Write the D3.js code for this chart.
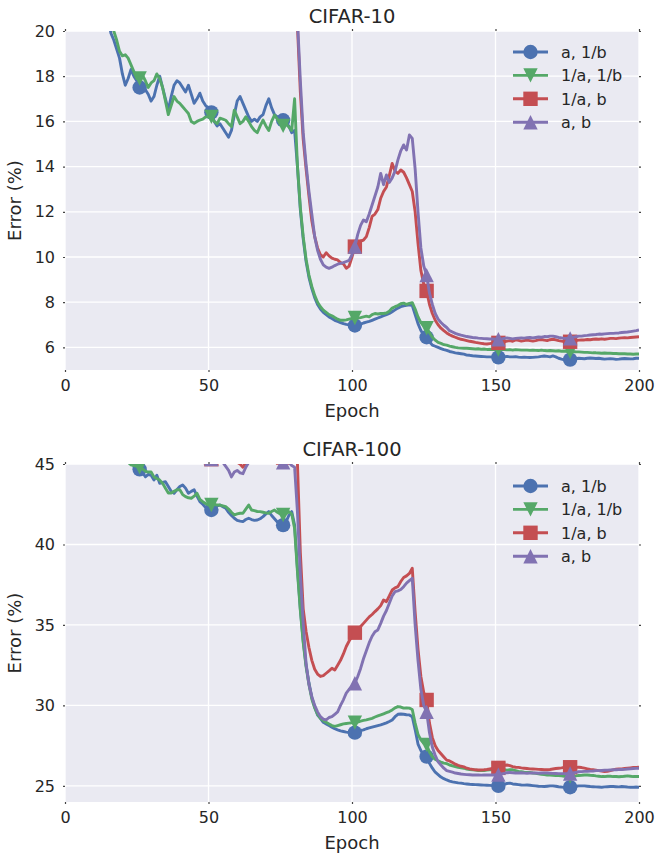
<!DOCTYPE html>
<html>
<head>
<meta charset="utf-8">
<script src="https://cdn.jsdelivr.net/npm/d3@7/dist/d3.min.js"></script>
<style>
  body { margin: 0; background: #fff; }
  svg text { font-family: "DejaVu Sans", sans-serif; fill: #262626; }
</style>
</head>
<body>
<div id="chart"></div>
<script>
const WIDTH = 656;
const HEIGHT = 857;

const labels = ["a, 1/b", "1/a, 1/b", "1/a, b", "a, b"];
const colors = ["#4C72B0", "#55A868", "#C44E52", "#8172B2"];
const markerKinds = ["circle", "triDown", "square", "triUp"];
const xTicks = [0, 50, 100, 150, 200];
const c10Ticks = [6, 8, 10, 12, 14, 16, 18, 20];
const c100Ticks = [25, 30, 35, 40, 45];
const MARK_EVERY = 25;

// CIFAR-10, error per epoch (epochs 1..200)
const c10_a_invb = [
  38, 33, 30, 28.5, 27, 26, 25.2, 24.5, 23.8, 23.2,
  22.7, 22.2, 21.7, 21.2, 20.6, 19.9, 19.6, 19.2, 18.8, 18.1,
  17.6, 17.9, 18.3, 18.0, 17.8, 17.5, 17.7, 17.4, 17.2, 16.9,
  17.1, 17.6, 18.0, 17.5, 17.0, 16.5, 17.1, 17.6, 17.8, 17.7,
  17.5, 17.3, 17.6, 17.2, 16.8, 17.0, 17.25, 16.9, 16.7, 16.6,
  16.4, 16.0, 15.8, 15.9, 15.7, 15.5, 15.3, 15.6, 16.3, 16.9,
  17.1, 16.8, 16.5, 16.2, 16.0, 16.1, 16.0, 16.2, 16.3, 16.7,
  17.0, 16.6, 16.3, 16.2, 16.1, 16.05, 15.9, 15.8, 15.5, 15.6,
  14.0, 12.1, 10.8, 9.8, 9.1, 8.6, 8.2, 7.9, 7.7, 7.55,
  7.45, 7.35, 7.28, 7.2, 7.15, 7.1, 7.05, 7.02, 7.0, 6.98,
  6.97, 7.0, 7.03, 7.08, 7.12, 7.15, 7.2, 7.25, 7.3, 7.35,
  7.4, 7.45, 7.5, 7.58, 7.66, 7.74, 7.8, 7.84, 7.86, 7.88,
  7.85, 7.45, 7.05, 6.75, 6.55, 6.45, 6.25, 6.1, 6.05, 6.0,
  5.95, 5.9, 5.87, 5.82, 5.79, 5.76, 5.74, 5.72, 5.7, 5.66,
  5.65, 5.63, 5.62, 5.61, 5.6, 5.59, 5.58, 5.58, 5.57, 5.57,
  5.56, 5.57, 5.58, 5.6, 5.58, 5.58, 5.59, 5.57, 5.56, 5.57,
  5.56, 5.55, 5.56, 5.57, 5.58, 5.6, 5.62, 5.6, 5.58, 5.62,
  5.58, 5.52, 5.48, 5.45, 5.45, 5.46, 5.48, 5.5, 5.52, 5.51,
  5.5, 5.52, 5.53, 5.52, 5.51, 5.52, 5.5, 5.48, 5.49, 5.5,
  5.49, 5.47, 5.48, 5.5, 5.51, 5.5, 5.49, 5.5, 5.52, 5.52
];
const c10_inva_invb = [
  39, 34, 31, 29, 27.5, 26.5, 25.6, 24.8, 24.1, 23.5,
  23.0, 22.4, 21.9, 21.4, 20.9, 20.4, 20.0, 19.6, 19.1, 18.9,
  18.95, 18.8, 18.5, 18.2, 17.9, 17.9, 18.05, 17.8, 17.5, 17.7,
  17.8, 18.1, 17.9, 17.5, 16.9, 16.3, 16.7, 17.1, 16.9, 16.8,
  16.65, 16.5, 16.35, 16.0, 15.92, 16.0, 16.06, 16.1, 16.2, 16.2,
  16.2, 16.0, 15.9, 16.14, 16.1, 16.05, 15.9, 15.77, 16.5, 16.2,
  15.9, 16.0, 16.2, 16.0, 15.77, 15.6, 15.5, 15.8, 16.06, 15.8,
  15.6, 16.0, 16.28, 16.1, 15.9, 15.8, 15.9, 15.75, 15.6, 17.0,
  14.0, 12.2, 10.9, 9.9, 9.2, 8.7, 8.3, 8.0, 7.8, 7.65,
  7.55, 7.45, 7.4, 7.32, 7.25, 7.2, 7.2, 7.22, 7.25, 7.28,
  7.3, 7.3, 7.32, 7.35, 7.38, 7.35, 7.45, 7.5, 7.48, 7.5,
  7.5, 7.52, 7.6, 7.74, 7.8, 7.85, 7.93, 7.96, 7.9, 7.95,
  7.98, 7.7, 7.35, 7.1, 6.95, 6.85, 6.65, 6.45, 6.32, 6.22,
  6.18, 6.12, 6.1, 6.06, 6.03, 6.0, 5.98, 5.97, 5.96, 5.96,
  5.95, 5.94, 5.93, 5.94, 5.92, 5.93, 5.91, 5.92, 5.91, 5.91,
  5.91, 5.9, 5.9, 5.89, 5.9, 5.88, 5.9, 5.89, 5.88, 5.88,
  5.88, 5.87, 5.88, 5.87, 5.86, 5.88, 5.86, 5.85, 5.86, 5.85,
  5.84, 5.85, 5.83, 5.84, 5.82, 5.81, 5.82, 5.8, 5.8, 5.79,
  5.78, 5.78, 5.77, 5.76, 5.76, 5.75, 5.74, 5.75, 5.74, 5.74,
  5.73, 5.73, 5.72, 5.72, 5.72, 5.71, 5.71, 5.7, 5.71, 5.71
];
const c10_inva_b = [
  47, 40, 36, 33.5, 31.5, 30, 29, 28.2, 27.6, 27.1,
  26.7, 26.3, 26, 25.7, 25.5, 25.3, 25.1, 24.9, 24.7, 24.6,
  24.5, 24.4, 24.3, 24.2, 24.1, 24.0, 23.9, 23.9, 23.8, 23.7,
  23.7, 23.6, 23.6, 23.5, 23.5, 23.4, 23.4, 23.3, 23.3, 23.2,
  23.2, 23.1, 23.1, 23.0, 23.0, 22.9, 22.9, 22.9, 22.8, 22.8,
  22.8, 22.7, 22.7, 22.7, 22.6, 22.6, 22.6, 22.5, 22.5, 22.5,
  22.4, 22.4, 22.4, 22.4, 22.3, 22.3, 22.3, 22.3, 22.2, 22.2,
  22.2, 22.2, 22.1, 22.1, 22.1, 22.1, 22.0, 22.0, 22.0, 22.0,
  20.2, 17.3, 15.2, 13.9, 12.7, 11.6, 10.9, 10.4, 10.1, 10.0,
  10.19, 10.05, 9.95, 9.9, 9.87, 9.75, 9.7, 9.5, 9.6, 10.0,
  10.46, 10.6, 10.7, 10.75, 10.9, 11.3, 11.8, 11.9, 12.1, 12.6,
  12.9, 13.1, 13.6, 14.14, 13.8, 13.7, 13.85, 13.75, 13.5, 13.2,
  12.9, 12.0, 10.6, 9.4, 8.8, 8.5, 7.9, 7.5, 7.2, 7.0,
  6.85, 6.74, 6.64, 6.56, 6.5, 6.45, 6.4, 6.36, 6.33, 6.3,
  6.27, 6.25, 6.22, 6.2, 6.18, 6.16, 6.15, 6.17, 6.19, 6.2,
  6.2, 6.22, 6.25, 6.28, 6.3, 6.27, 6.33, 6.31, 6.28, 6.3,
  6.32, 6.3, 6.28, 6.3, 6.33, 6.35, 6.32, 6.3, 6.34, 6.36,
  6.33, 6.3, 6.28, 6.26, 6.25, 6.25, 6.28, 6.3, 6.32, 6.33,
  6.33, 6.35, 6.34, 6.36, 6.37, 6.36, 6.38, 6.36, 6.38, 6.4,
  6.4, 6.39, 6.41, 6.42, 6.43, 6.42, 6.44, 6.45, 6.46, 6.47
];
const c10_a_b = [
  46, 39, 35, 32.8, 31, 29.7, 28.7, 28, 27.4, 26.9,
  26.5, 26.2, 25.9, 25.6, 25.4, 25.2, 25.0, 24.8, 24.7, 24.5,
  24.4, 24.3, 24.2, 24.1, 24.0, 23.9, 23.9, 23.8, 23.7, 23.7,
  23.6, 23.6, 23.5, 23.5, 23.4, 23.4, 23.3, 23.3, 23.2, 23.2,
  23.1, 23.1, 23.0, 23.0, 22.9, 22.9, 22.9, 22.8, 22.8, 22.8,
  22.7, 22.7, 22.7, 22.6, 22.6, 22.6, 22.5, 22.5, 22.5, 22.4,
  22.4, 22.4, 22.4, 22.3, 22.3, 22.3, 22.3, 22.2, 22.2, 22.2,
  22.2, 22.1, 22.1, 22.1, 22.1, 22.0, 22.0, 22.0, 22.0, 21.9,
  20.5, 17.8, 15.5, 14.1, 12.9, 11.9, 10.9, 10.3, 9.9, 9.65,
  9.55, 9.5, 9.55, 9.62, 9.68, 9.72, 9.75, 9.8, 9.85, 10.1,
  10.46, 11.0, 11.4, 11.64, 11.56, 11.9, 12.3, 12.7, 13.1, 13.7,
  13.2, 13.63, 13.3, 13.5, 13.8, 14.3, 14.7, 14.96, 14.73, 15.4,
  15.25, 13.9, 12.0, 10.4, 9.6, 9.2, 8.4, 7.9, 7.5, 7.25,
  7.1, 6.98, 6.88, 6.74, 6.68, 6.62, 6.58, 6.54, 6.51, 6.48,
  6.46, 6.44, 6.43, 6.41, 6.4, 6.39, 6.38, 6.37, 6.37, 6.36,
  6.36, 6.37, 6.4, 6.42, 6.4, 6.38, 6.4, 6.41, 6.42, 6.41,
  6.43, 6.44, 6.42, 6.44, 6.46, 6.45, 6.48, 6.47, 6.5, 6.5,
  6.47, 6.44, 6.42, 6.4, 6.4, 6.4, 6.44, 6.47, 6.5, 6.5,
  6.52, 6.53, 6.55, 6.56, 6.57, 6.59, 6.58, 6.6, 6.61, 6.62,
  6.62, 6.63, 6.64, 6.66, 6.67, 6.68, 6.7, 6.72, 6.74, 6.77
];

// CIFAR-100, error per epoch (epochs 1..200)
const c100_a_invb = [
  75, 68, 63, 60, 57.5, 55.5, 54, 53, 52, 51.2,
  50.5, 49.8, 49.2, 48.6, 48.1, 47.6, 47.2, 46.8, 46.4, 46.0,
  45.7, 45.4, 45.1, 44.9, 44.8, 44.67, 44.5, 44.2, 44.35, 44.3,
  44.0, 44.3, 43.8, 43.85, 43.9, 43.6, 43.3, 43.18, 43.4, 43.6,
  43.7, 43.5, 43.18, 43.3, 43.4, 43.0, 42.66, 42.5, 42.3, 42.2,
  42.14, 42.3, 42.4, 42.45, 42.35, 42.25, 42.0, 41.8, 41.63, 41.5,
  41.45, 41.42, 41.55, 41.63, 41.55, 41.5, 41.52, 41.6, 41.73, 41.9,
  42.04, 41.8, 41.6, 41.4, 41.25, 41.2, 41.4, 41.8, 42.04, 41.2,
  38.5, 36.0, 34.0, 32.5, 31.4, 30.5, 29.9, 29.4, 29.2, 28.95,
  28.85, 28.75, 28.65, 28.55, 28.48, 28.42, 28.38, 28.34, 28.32, 28.3,
  28.31, 28.38, 28.44, 28.48, 28.55, 28.6, 28.65, 28.7, 28.75, 28.79,
  28.85, 28.92, 29.0, 29.1, 29.3, 29.45, 29.47, 29.45, 29.42, 29.41,
  29.3, 28.5, 27.6, 27.2, 26.9, 26.82, 26.4, 26.1, 25.85, 25.7,
  25.55, 25.45, 25.37, 25.3, 25.25, 25.22, 25.19, 25.17, 25.14, 25.12,
  25.1, 25.09, 25.08, 25.07, 25.06, 25.05, 25.04, 25.03, 25.02, 25.0,
  25.0, 25.05, 25.1, 25.15, 25.17, 25.12, 25.1, 25.08, 25.06, 25.05,
  25.06, 25.04, 25.02, 25.0, 24.98, 24.97, 24.96, 24.98, 25.0, 25.0,
  24.98, 24.95, 24.93, 24.92, 24.92, 24.92, 24.95, 24.98, 25.0, 25.0,
  25.0, 24.98, 24.96, 24.95, 24.94, 24.93, 24.92, 24.94, 24.95, 24.96,
  24.96, 24.95, 24.94, 24.96, 24.95, 24.93, 24.92, 24.92, 24.93, 24.92
];
const c100_inva_invb = [
  74, 67, 62, 59, 56.8, 55, 53.6, 52.5, 51.6, 50.8,
  50.1, 49.4, 48.8, 48.2, 47.7, 47.2, 46.8, 46.4, 46.0, 45.6,
  45.3, 45.1, 44.95, 44.9, 44.85, 44.8, 44.7, 44.55, 44.5, 44.5,
  44.2, 44.1, 44.0, 43.8, 43.5, 43.2, 43.2, 43.3, 43.4, 43.4,
  43.1, 42.97, 42.9, 42.87, 43.0, 43.18, 42.8, 42.66, 42.55, 42.45,
  42.45, 42.5, 42.45, 42.45, 42.4, 42.35, 42.2, 42.0, 41.83, 41.9,
  41.94, 41.94, 42.2, 42.45, 42.14, 42.1, 42.05, 42.04, 42.0, 41.96,
  41.94, 42.05, 42.14, 42.0, 41.9, 41.83, 41.9, 42.04, 41.9, 41.0,
  38.3, 35.9, 33.9, 32.4, 31.3, 30.4, 29.85, 29.45, 29.2, 29.05,
  28.95, 28.85, 28.75, 28.7, 28.75, 28.8, 28.85, 28.88, 28.9, 28.92,
  28.93, 28.97, 29.02, 29.07, 29.1, 29.15, 29.2, 29.28, 29.35, 29.41,
  29.48, 29.55, 29.62, 29.72, 29.85, 29.93, 29.9, 29.83, 29.85, 29.83,
  29.75, 28.9, 28.2, 27.86, 27.65, 27.55, 27.1, 26.82, 26.65, 26.55,
  26.48, 26.42, 26.38, 26.3, 26.25, 26.2, 26.15, 26.12, 26.1, 26.05,
  26.02, 26.0, 25.98, 25.96, 25.95, 25.96, 25.98, 26.0, 26.0, 26.0,
  26.0, 26.02, 26.0, 25.98, 26.0, 26.0, 25.95, 25.9, 25.88, 25.85,
  25.84, 25.83, 25.8, 25.78, 25.75, 25.72, 25.7, 25.68, 25.68, 25.66,
  25.65, 25.64, 25.62, 25.6, 25.6, 25.58, 25.6, 25.62, 25.65, 25.66,
  25.68, 25.68, 25.66, 25.65, 25.62, 25.6, 25.58, 25.58, 25.6, 25.6,
  25.58, 25.58, 25.57, 25.58, 25.6, 25.62, 25.6, 25.58, 25.58, 25.58
];
const c100_inva_b = [
  80, 72, 66, 62, 59, 57, 55.5, 54.2, 53.2, 52.3,
  51.5, 50.8, 50.2, 49.7, 49.2, 48.8, 48.4, 48.1, 47.8, 47.5,
  47.3, 47.1, 46.9, 46.8, 46.7, 46.6, 46.5, 46.4, 46.3, 46.3,
  46.2, 46.1, 46.2, 46.0, 46.1, 45.9, 46.0, 45.8, 45.9, 45.7,
  45.8, 45.6, 45.7, 45.5, 45.6, 45.4, 45.5, 45.6, 45.3, 45.4,
  45.3, 45.5, 45.3, 45.2, 45.4, 45.3, 45.2, 45.4, 45.2, 45.1,
  45.0, 44.8, 45.1, 45.3, 45.2, 45.4, 45.3, 45.5, 45.3, 45.4,
  45.3, 45.5, 45.4, 45.6, 45.5, 45.4, 45.6, 45.5, 45.4, 45.5,
  45.0, 39.5, 36.0, 34.6, 33.6, 32.8, 32.25, 31.95, 31.8, 31.85,
  32.0, 32.15, 32.31, 32.2, 32.5, 32.8, 33.2, 33.66, 34.0, 34.3,
  34.52, 34.75, 34.9, 35.1, 35.3, 35.5, 35.65, 35.83, 36.0, 36.2,
  36.55, 36.45, 36.8, 37.17, 37.3, 37.38, 37.7, 37.95, 38.05, 38.2,
  38.52, 35.8, 33.5, 31.8, 30.8, 30.34, 28.9, 28.0, 27.5, 27.2,
  27.0, 26.8, 26.6, 26.55, 26.45, 26.35, 26.28, 26.22, 26.18, 26.1,
  26.06, 26.03, 26.0, 25.99, 25.99, 26.0, 26.02, 26.05, 26.08, 26.1,
  26.12, 26.2, 26.28, 26.3, 26.26, 26.2, 26.16, 26.15, 26.12, 26.1,
  26.08, 26.06, 26.05, 26.04, 26.03, 26.02, 26.0, 26.0, 26.02, 26.05,
  26.08, 26.1, 26.12, 26.15, 26.16, 26.16, 26.16, 26.15, 26.16, 26.14,
  26.1, 26.06, 26.02, 26.0, 25.98, 25.95, 25.92, 25.89, 25.9, 25.95,
  26.0, 26.04, 26.06, 26.05, 26.08, 26.1, 26.12, 26.14, 26.15, 26.16
];
const c100_a_b = [
  79, 71, 65, 61, 58.3, 56.2, 54.6, 53.3, 52.3, 51.4,
  50.6, 49.9, 49.3, 48.8, 48.3, 47.9, 47.5, 47.2, 46.9, 46.7,
  46.5, 46.3, 46.2, 46.0, 45.9, 45.8, 45.7, 45.6, 45.5, 45.45,
  45.4, 45.5, 45.3, 45.4, 45.2, 45.3, 45.1, 45.3, 45.2, 45.1,
  45.3, 45.4, 45.2, 45.3, 45.1, 45.2, 45.3, 45.1, 45.04, 45.2,
  45.3, 45.3, 45.2, 45.3, 45.1, 44.85, 44.6, 44.2, 44.5, 44.6,
  44.45, 44.4, 44.8, 45.1, 45.3, 45.4, 45.3, 45.5, 45.4, 45.3,
  45.4, 45.3, 45.2, 45.3, 45.2, 45.1, 45.2, 45.1, 44.9, 44.8,
  42.0, 38.2, 35.1, 32.6, 31.3, 30.55, 30.0, 29.6, 29.3, 29.15,
  29.1, 29.25, 29.3, 29.45, 29.6, 30.0, 30.35, 30.76, 31.0, 31.2,
  31.38, 31.8, 32.3, 32.9, 33.4, 33.9, 34.3, 34.58, 34.69, 35.1,
  35.55, 35.9, 36.35, 36.8, 37.07, 37.12, 37.2, 37.38, 37.6, 37.75,
  37.9, 35.0, 32.8, 31.0, 30.0, 29.6, 28.3, 27.4, 26.9, 26.5,
  26.3, 26.1, 25.95, 25.9, 25.85, 25.8, 25.77, 25.74, 25.72, 25.7,
  25.69, 25.68, 25.68, 25.68, 25.67, 25.68, 25.68, 25.68, 25.68, 25.68,
  25.7, 25.74, 25.78, 25.82, 25.83, 25.82, 25.8, 25.8, 25.82, 25.8,
  25.79, 25.8, 25.8, 25.8, 25.79, 25.8, 25.81, 25.8, 25.79, 25.78,
  25.77, 25.76, 25.76, 25.76, 25.76, 25.77, 25.8, 25.84, 25.88, 25.89,
  25.9, 25.9, 25.92, 25.93, 25.95, 25.95, 25.96, 25.97, 25.98, 25.99,
  26.0, 26.0, 26.01, 26.02, 26.03, 26.05, 26.06, 26.08, 26.09, 26.1
];

const PLOT_LEFT = 65;
const PLOT_RIGHT = 639;
const BG = "#EAEAF2";
const LINE_W = 2.9;
const MS = 7.2; // half marker size

const markerPath = {
  circle: () => d3.symbol(d3.symbolCircle, Math.PI * MS * MS)(),
  square: () => `M${-MS},${-MS}H${MS}V${MS}H${-MS}Z`,
  triUp: () => `M0,${-MS}L${MS},${MS}L${-MS},${MS}Z`,
  triDown: () => `M0,${MS}L${MS},${-MS}L${-MS},${-MS}Z`
};

const svg = d3.select("#chart")
  .append("svg")
    .attr("width", WIDTH)
    .attr("height", HEIGHT);

function drawPanel(opts) {
  const x = d3.scaleLinear().domain([0, 200]).range([PLOT_LEFT, PLOT_RIGHT]);
  const y = d3.scaleLinear().domain(opts.yDomain).range([opts.bottom, opts.top]);
  const g = svg.append("g");

  g.append("rect")
    .attr("x", PLOT_LEFT).attr("y", opts.top)
    .attr("width", PLOT_RIGHT - PLOT_LEFT).attr("height", opts.bottom - opts.top)
    .attr("fill", BG);

  // grid
  g.selectAll(".vgrid").data(xTicks).enter().append("line")
    .attr("x1", d => x(d)).attr("x2", d => x(d))
    .attr("y1", opts.top).attr("y2", opts.bottom)
    .attr("stroke", "#fff").attr("stroke-width", 1.3);
  g.selectAll(".hgrid").data(opts.yTicks).enter().append("line")
    .attr("x1", PLOT_LEFT).attr("x2", PLOT_RIGHT)
    .attr("y1", d => y(d)).attr("y2", d => y(d))
    .attr("stroke", "#fff").attr("stroke-width", 1.3);

  // axes (small ticks on every side)
  const axB = g.append("g").attr("transform", `translate(0,${opts.bottom})`)
    .call(d3.axisBottom(x).tickValues(xTicks).tickSize(2).tickPadding(8));
  const axT = g.append("g").attr("transform", `translate(0,${opts.top})`)
    .call(d3.axisTop(x).tickValues(xTicks).tickSize(2).tickFormat(""));
  const axL = g.append("g").attr("transform", `translate(${PLOT_LEFT},0)`)
    .call(d3.axisLeft(y).tickValues(opts.yTicks).tickSize(2).tickPadding(8));
  const axR = g.append("g").attr("transform", `translate(${PLOT_RIGHT},0)`)
    .call(d3.axisRight(y).tickValues(opts.yTicks).tickSize(2).tickFormat(""));
  [axB, axT, axL, axR].forEach(a => {
    a.select(".domain").remove();
    a.selectAll(".tick line").attr("stroke", "#444").attr("stroke-width", 1.2);
    a.selectAll("text").style("font-size", "16px").attr("fill", "#262626");
  });

  // clip
  const clipId = "clip-" + opts.id;
  svg.append("clipPath").attr("id", clipId).append("rect")
    .attr("x", PLOT_LEFT).attr("y", opts.top)
    .attr("width", PLOT_RIGHT - PLOT_LEFT).attr("height", opts.bottom - opts.top);

  const plot = g.append("g").attr("clip-path", `url(#${clipId})`);
  const line = d3.line().x((d, i) => x(i + 1)).y(d => y(d));

  opts.series.forEach((s, k) => {
    plot.append("path")
      .datum(s)
      .attr("d", line)
      .attr("fill", "none")
      .attr("stroke", colors[k])
      .attr("stroke-width", LINE_W)
      .attr("stroke-linejoin", "round");
    plot.selectAll(".m" + k)
      .data(s.map((v, i) => [i, v]).filter(d => d[0] % MARK_EVERY === 0))
      .enter().append("path")
      .attr("d", markerPath[markerKinds[k]]())
      .attr("transform", d => `translate(${x(d[0] + 1)},${y(d[1])})`)
      .attr("fill", colors[k]);
  });

  // legend
  const lg = g.append("g");
  labels.forEach((lab, k) => {
    const ly = opts.legendTop + k * 23.4;
    lg.append("line")
      .attr("x1", 513).attr("x2", 548).attr("y1", ly).attr("y2", ly)
      .attr("stroke", colors[k]).attr("stroke-width", LINE_W);
    lg.append("path")
      .attr("d", markerPath[markerKinds[k]]())
      .attr("transform", `translate(530.5,${ly})`)
      .attr("fill", colors[k]);
    lg.append("text")
      .attr("x", 561).attr("y", ly + 5.8)
      .style("font-size", "16px")
      .text(lab);
  });

  // titles and labels
  g.append("text")
    .attr("x", (PLOT_LEFT + PLOT_RIGHT) / 2).attr("y", opts.top - 8)
    .attr("text-anchor", "middle")
    .style("font-size", "19.5px")
    .text(opts.title);
  g.append("text")
    .attr("x", (PLOT_LEFT + PLOT_RIGHT) / 2).attr("y", opts.bottom + 46.5)
    .attr("text-anchor", "middle")
    .style("font-size", "18px")
    .text("Epoch");
  g.append("text")
    .attr("transform", `translate(21,${(opts.top + opts.bottom) / 2}) rotate(-90)`)
    .attr("text-anchor", "middle")
    .style("font-size", "18px")
    .text("Error (%)");
}

drawPanel({
  id: "c10", title: "CIFAR-10",
  top: 31, bottom: 370, yDomain: [5, 20], yTicks: c10Ticks,
  legendTop: 52,
  series: [c10_a_invb, c10_inva_invb, c10_inva_b, c10_a_b]
});

drawPanel({
  id: "c100", title: "CIFAR-100",
  top: 464, bottom: 802, yDomain: [24, 45], yTicks: c100Ticks,
  legendTop: 486,
  series: [c100_a_invb, c100_inva_invb, c100_inva_b, c100_a_b]
});
</script>
</body>
</html>
